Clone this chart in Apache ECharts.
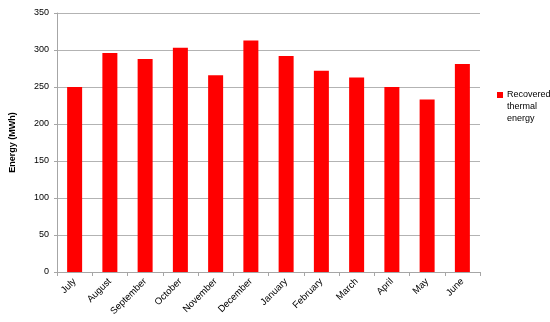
<!DOCTYPE html>
<html>
<head>
<meta charset="utf-8">
<script src="https://cdn.jsdelivr.net/npm/echarts@6/dist/echarts.min.js"></script>
<style>
  html, body { margin: 0; padding: 0; background: #fff; }
  #chart { width: 550px; height: 322px; }
</style>
</head>
<body>
<div id="chart"></div>
<script>
var months = ['July', 'August', 'September', 'October', 'November', 'December',
  'January', 'February', 'March', 'April', 'May', 'June'];
var recovered = [250, 296, 288, 303, 266, 313, 292, 272, 263, 250, 233, 281];
var seriesName = 'Recovered\nthermal\nenergy';

var chart = echarts.init(document.getElementById('chart'));
var font = 'Liberation Sans, Arial, sans-serif';

chart.setOption({
  animation: false,
  textStyle: { fontFamily: font },
  grid: { left: 57, right: 70, top: 13, bottom: 50 },
  legend: {
    data: [seriesName],
    left: 492,
    top: 84,
    // square sits at the top of a tall box so it lines up with the first text line
    icon: 'path://M0,0H6V6H0Z M0,29.9H0.05V30H0Z',
    itemWidth: 6,
    itemHeight: 30,
    itemGap: 4,
    textStyle: { fontSize: 9, color: '#000', lineHeight: 12, fontFamily: font, padding: [0, 0, 0, -1] }
  },
  xAxis: {
    type: 'category',
    data: months,
    axisLine: { lineStyle: { color: '#a6a6a6' } },
    axisTick: { show: true, length: 4, lineStyle: { color: '#a6a6a6' } },
    axisLabel: { rotate: 45, fontSize: 9.5, color: '#000', margin: 8, interval: 0 }
  },
  yAxis: {
    type: 'value',
    min: 0,
    max: 350,
    interval: 50,
    name: 'Energy (MWh)',
    nameLocation: 'middle',
    nameGap: 40,
    nameTextStyle: { fontSize: 9, fontWeight: 'bold', color: '#000' },
    axisLine: { show: true, lineStyle: { color: '#a6a6a6' } },
    axisTick: { show: true, length: 3, lineStyle: { color: '#a6a6a6' } },
    axisLabel: { fontSize: 9, color: '#000', margin: 8 },
    splitLine: { lineStyle: { color: '#b3b3b3' } }
  },
  series: [{
    name: seriesName,
    type: 'bar',
    data: recovered,
    barWidth: 15,
    itemStyle: { color: '#ff0000' }
  }]
});
</script>
</body>
</html>
